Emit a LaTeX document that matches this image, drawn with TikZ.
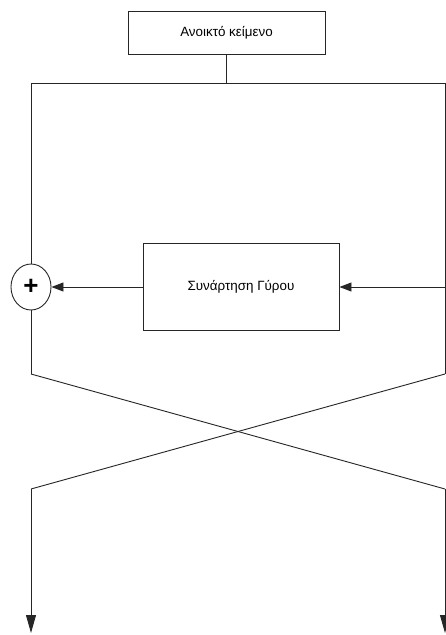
\documentclass[tikz,border=0pt]{standalone}
\usepackage{fontspec}
\setmainfont{Liberation Sans}
\usetikzlibrary{arrows.meta,shapes.geometric}
\begin{document}
\begin{tikzpicture}[x=1pt,y=-1pt,
  wire/.style={draw=black!85,line width=0.9pt},
  flow/.style={wire,-{Triangle[length=12pt,width=9pt]}},
  outflow/.style={wire,-{Triangle[length=18pt,width=10pt]}},
  block/.style={draw=black!85,line width=0.9pt,rectangle,inner sep=0pt,font=\fontsize{13.4}{15}\selectfont},
  xorop/.style={draw=black!85,line width=0.9pt,ellipse,minimum width=40pt,minimum height=46pt,inner sep=0pt,font=\fontsize{26}{28}\selectfont\bfseries}]
\useasboundingbox (0,0) rectangle (446,635);
% input block and round function
\node[block,minimum width=197pt,minimum height=43pt] (plain) at (226.5,32.5) {Ανοικτό κείμενο};
\node[block,minimum width=196pt,minimum height=87pt] (round) at (241,287) {Συνάρτηση Γύρου};
\node[xorop] (xor) at (31,287) {\raisebox{1pt}{+}};
% splitting into two halves
\coordinate (split) at (226.5,83);
\coordinate (tl) at (31,83);
\coordinate (tr) at (445,83);
\coordinate (rmid) at (445,287);
\coordinate (lbot) at (31,374);
\coordinate (rbot) at (445,374);
\coordinate (lcross) at (31,489);
\coordinate (rcross) at (445,489);
\coordinate (lout) at (31,633);
\coordinate (rout) at (445,633);
\draw[wire] (plain.south) -- (split);
\draw[wire] (tl) -- (tr);
\draw[wire] (tl) -- (xor.north);
\draw[wire] (tr) -- (rbot);
\draw[flow] (rmid) -- (round.east);
\draw[flow] (round.west) -- (xor.east);
\draw[wire] (xor.south) -- (lbot);
% swap of the halves
\draw[wire] (lbot) -- (rcross);
\draw[wire] (rbot) -- (lcross);
\draw[outflow] (lcross) -- (lout);
\draw[outflow] (rcross) -- (rout);
\end{tikzpicture}
\end{document}
